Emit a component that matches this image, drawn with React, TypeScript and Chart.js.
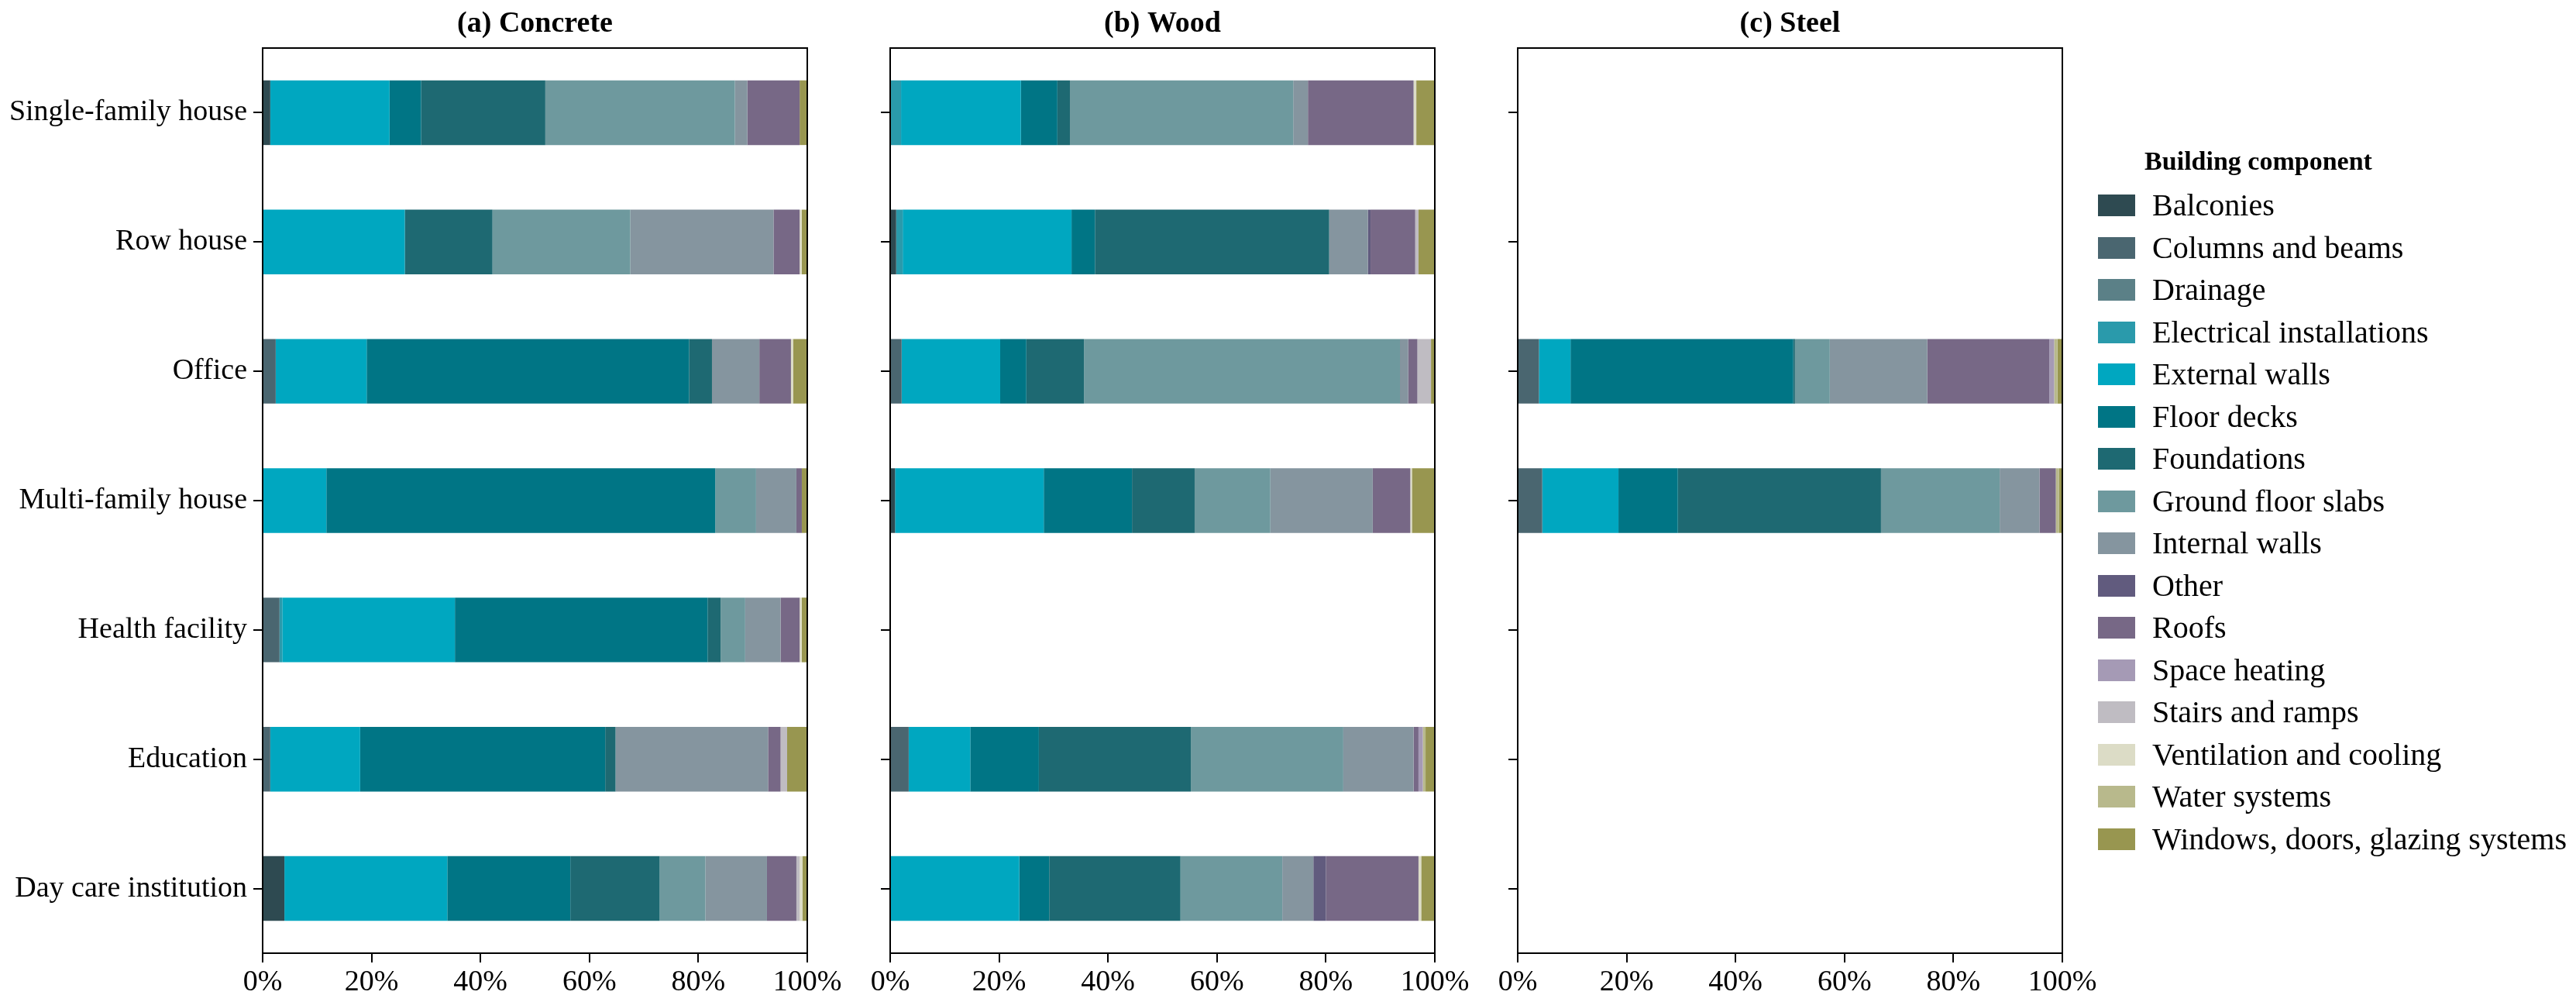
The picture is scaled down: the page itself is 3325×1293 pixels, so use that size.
import React, { useEffect, useRef } from "react";
import { Chart, registerables } from "chart.js";

Chart.register(...registerables);

// ---------- DATA ----------
const buildingTypes = [
  "Single-family house",
  "Row house",
  "Office",
  "Multi-family house",
  "Health facility",
  "Education",
  "Day care institution",
];

const components = [
  "Balconies",
  "Columns and beams",
  "Drainage",
  "Electrical installations",
  "External walls",
  "Floor decks",
  "Foundations",
  "Ground floor slabs",
  "Internal walls",
  "Other",
  "Roofs",
  "Space heating",
  "Stairs and ramps",
  "Ventilation and cooling",
  "Water systems",
  "Windows, doors, glazing systems",
];

const componentColors = [
  "#2e4a51",
  "#4a6670",
  "#5b8087",
  "#2a9aab",
  "#00a7c0",
  "#007585",
  "#1e6972",
  "#6e999e",
  "#85959f",
  "#615b7e",
  "#776886",
  "#a59ab5",
  "#bfbcc2",
  "#dcdcc6",
  "#b8b98c",
  "#989650",
];

const xTickValues = [0, 20, 40, 60, 80, 100];
const panelTitles = ["(a) Concrete", "(b) Wood", "(c) Steel"];

// shares (%) per building type, columns in `components` order; null = no bar
const concreteShares = [
  [1.4, 0, 0, 0, 21.9, 5.8, 22.8, 34.8, 2.3, 0, 9.6, 0, 0, 0, 0, 1.4],
  [0, 0, 0, 0, 26.1, 0, 16.1, 25.3, 26.3, 0, 4.8, 0, 0, 0.4, 0, 1.0],
  [0, 2.4, 0, 0, 16.7, 59.2, 4.2, 0, 8.7, 0, 5.8, 0, 0, 0.4, 0, 2.6],
  [0, 0, 0, 0, 11.7, 71.4, 0, 7.5, 7.4, 0, 1.0, 0, 0, 0, 0, 1.0],
  [0, 3.1, 0, 0.5, 31.7, 46.4, 2.4, 4.5, 6.5, 0, 3.5, 0, 0, 0.4, 0, 1.0],
  [0, 1.4, 0, 0, 16.5, 45.0, 1.9, 0, 28.0, 0, 2.3, 0, 1.2, 0, 0, 3.7],
  [4.0, 0, 0, 0, 29.9, 22.6, 16.4, 8.4, 11.3, 0, 5.4, 0, 0.6, 0.5, 0, 0.9],
];

const woodShares = [
  [0, 0, 0, 2.0, 22.0, 6.7, 2.3, 41.0, 2.7, 0, 19.4, 0, 0, 0.5, 0, 3.4],
  [1.1, 0, 0, 1.2, 31.0, 4.3, 43.0, 0, 7.1, 0.5, 8.2, 0, 0.6, 0, 0, 3.0],
  [0, 2.1, 0, 0, 18.1, 4.8, 10.6, 58.0, 1.5, 0, 1.7, 0, 2.5, 0, 0, 0.7],
  [0.9, 0, 0, 0, 27.3, 16.2, 11.5, 13.9, 18.8, 0, 6.9, 0, 0, 0.3, 0, 4.2],
  null,
  [0, 3.4, 0, 0, 11.3, 12.6, 27.9, 28.0, 12.9, 0, 0.9, 0.8, 0, 0, 0.5, 1.7],
  [0, 0, 0, 0, 23.7, 5.5, 24.1, 18.7, 5.7, 2.3, 17.0, 0, 0, 0.5, 0, 2.5],
];

const steelShares = [
  null,
  null,
  [0, 3.9, 0, 0, 5.8, 40.9, 0.3, 6.4, 17.9, 0, 22.4, 0.9, 0, 0, 0.6, 0.9],
  [0, 4.5, 0, 0, 14.0, 10.9, 37.3, 21.8, 7.3, 0, 3.0, 0, 0, 0, 0.6, 0.6],
  null,
  null,
  null,
];

// ---------- STYLE ----------
const FONT = "'Liberation Serif', 'Times New Roman', serif";
const FS = 38;
const LEGEND_FS = 40;
const LEGEND_TITLE_FS = 34;
const H = 1293;

const framePlugin = {
  id: "frameBox",
  afterDatasetsDraw(chart: any) {
    const { ctx, chartArea } = chart;
    const { left, top, right, bottom } = chartArea;
    ctx.save();
    ctx.strokeStyle = "#000";
    ctx.lineWidth = 2;
    ctx.strokeRect(left, top, right - left, bottom - top);
    ctx.restore();
  },
};

const panelTitlePlugin = {
  id: "panelTitle",
  afterDraw(chart: any, _args: any, opts: any) {
    const { ctx, chartArea } = chart;
    ctx.save();
    ctx.font = `bold ${FS}px ${FONT}`;
    ctx.fillStyle = "#000";
    ctx.textAlign = "center";
    ctx.textBaseline = "middle";
    ctx.fillText(opts.text, (chartArea.left + chartArea.right) / 2, 31);
    ctx.restore();
  },
};

type PanelProps = {
  shares: (number[] | null)[];
  title: string;
  left: number;
  yWidth: number;
  showLabels: boolean;
};

function Panel({ shares, title, left, yWidth, showLabels }: PanelProps) {
  const ref = useRef<HTMLCanvasElement | null>(null);
  const plotW = 703;
  const padR = 60;
  const width = yWidth + plotW + padR;

  useEffect(() => {
    if (!ref.current) return;
    const datasets = components.map((name, j) => ({
      label: name,
      data: shares.map((row) => (row && row[j] ? row[j] : null)),
      backgroundColor: componentColors[j],
      borderWidth: 0,
      barPercentage: 0.5,
      categoryPercentage: 1,
      stack: "s",
    }));
    const chart = new Chart(ref.current, {
      type: "bar",
      data: { labels: buildingTypes, datasets },
      plugins: [framePlugin, panelTitlePlugin],
      options: {
        indexAxis: "y",
        animation: false,
        responsive: false,
        devicePixelRatio: 1,
        layout: { padding: { left: 0, top: 62, right: padR, bottom: 0 } },
        plugins: {
          legend: { display: false },
          tooltip: { enabled: false },
          title: { display: false },
          // @ts-ignore
          panelTitle: { text: title },
        },
        scales: {
          x: {
            type: "linear",
            stacked: true,
            min: 0,
            max: 100,
            afterBuildTicks: (scale: any) => {
              scale.ticks = xTickValues.map((v) => ({ value: v }));
            },
            afterFit: (scale: any) => {
              scale.height = 63;
            },
            ticks: {
              color: "#000",
              padding: 3,
              font: { family: FONT, size: FS },
              callback: (v: any) => `${v}%`,
              maxRotation: 0,
            },
            grid: {
              display: true,
              drawOnChartArea: false,
              drawTicks: true,
              tickLength: 12,
              color: "#000",
              lineWidth: 2,
            },
            border: { display: false },
          },
          y: {
            type: "category",
            stacked: true,
            offset: true,
            afterFit: (scale: any) => {
              scale.width = yWidth;
            },
            ticks: {
              display: showLabels,
              color: "#000",
              padding: 8,
              font: { family: FONT, size: FS },
            },
            grid: {
              display: true,
              offset: false,
              drawOnChartArea: false,
              drawTicks: true,
              tickLength: 12,
              color: "#000",
              lineWidth: 2,
            },
            border: { display: false },
          },
        },
      } as any,
    });
    return () => chart.destroy();
  }, []);

  return (
    <canvas
      ref={ref}
      width={width}
      height={H}
      style={{ position: "absolute", left, top: 0, width, height: H }}
    />
  );
}

function Legend() {
  const x0 = 2708;
  const y0 = 265;
  const step = 54.5;
  return (
    <div style={{ position: "absolute", left: 0, top: 0, fontFamily: FONT, color: "#000" }}>
      <div
        style={{
          position: "absolute",
          left: 2615,
          width: 600,
          top: 208 - 22,
          height: 44,
          lineHeight: "44px",
          textAlign: "center",
          fontWeight: "bold",
          fontSize: LEGEND_TITLE_FS,
          whiteSpace: "nowrap",
        }}
      >
        Building component
      </div>
      {components.map((name, i) => (
        <React.Fragment key={name}>
          <div
            style={{
              position: "absolute",
              left: x0,
              top: y0 + i * step - 14,
              width: 48,
              height: 28,
              background: componentColors[i],
            }}
          />
          <div
            style={{
              position: "absolute",
              left: 2778,
              top: y0 + i * step - 23,
              height: 46,
              lineHeight: "46px",
              fontSize: LEGEND_FS,
              whiteSpace: "nowrap",
            }}
          >
            {name}
          </div>
        </React.Fragment>
      ))}
    </div>
  );
}

export default function App() {
  useEffect(() => {
    document.body.style.overflow = "hidden";
  }, []);
  return (
    <div style={{ position: "absolute", left: 0, top: 0, width: 3325, height: H, background: "#fff" }}>
      <Panel shares={concreteShares} title={panelTitles[0]} left={0} yWidth={339} showLabels={true} />
      <Panel shares={woodShares} title={panelTitles[1]} left={1149 - 40} yWidth={40} showLabels={false} />
      <Panel shares={steelShares} title={panelTitles[2]} left={1959 - 40} yWidth={40} showLabels={false} />
      <Legend />
    </div>
  );
}
